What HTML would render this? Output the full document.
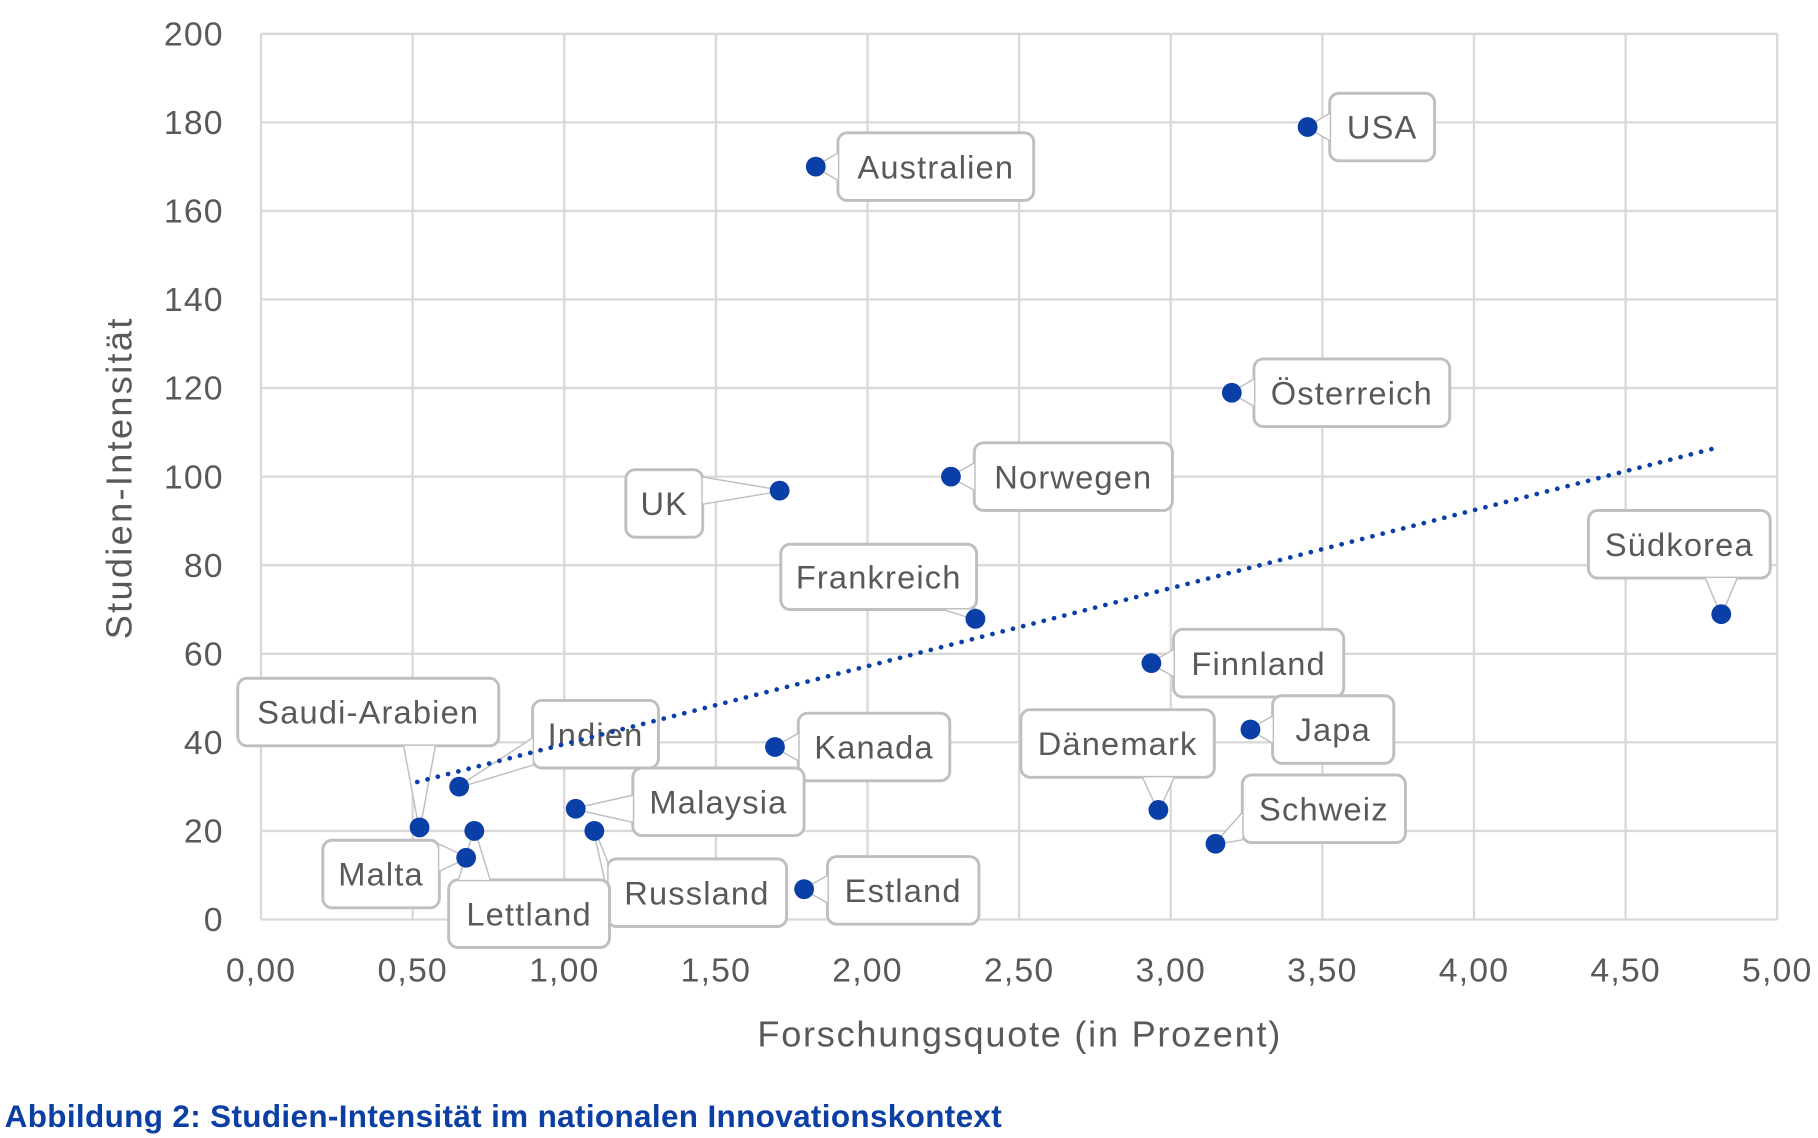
<!DOCTYPE html>
<html><head><meta charset="utf-8"><style>
html,body{margin:0;padding:0;background:#fff;}
svg{display:block;}
text{font-family:"Liberation Sans",sans-serif;}
</style></head><body>
<svg id="s" width="1818" height="1138" viewBox="0 0 1560 976.5" xmlns="http://www.w3.org/2000/svg">
<rect width="1560" height="977" fill="#fff"/>
<g id="grid" stroke="#d9d9d9" stroke-width="2"></g>
<g id="ticks" fill="#595959" font-size="29" letter-spacing="1"></g>
<text x="875" y="898" text-anchor="middle" fill="#595959" font-size="31" letter-spacing="1.5">Forschungsquote (in Prozent)</text>
<text transform="translate(113,410) rotate(-90)" text-anchor="middle" fill="#595959" font-size="31" letter-spacing="2">Studien-Intensität</text>
<g id="lab"></g>
<line x1="358" y1="671" x2="1470" y2="385" stroke="#0a3fa8" stroke-width="4" stroke-dasharray="0.1 9" stroke-linecap="round"/>
<g id="pts" fill="#0a3fa8"></g>
<text x="4" y="967" fill="#0b3fa3" font-size="27" font-weight="bold" letter-spacing="0.3">Abbildung 2: Studien-Intensität im nationalen Innovationskontext</text>
</svg>
<script>
var NS="http://www.w3.org/2000/svg";
function el(p,t,a,txt){var e=document.createElementNS(NS,t);for(var k in a)e.setAttribute(k,a[k]);if(txt)e.textContent=txt;p.appendChild(e);return e;}
var g=document.getElementById('grid'),tk=document.getElementById('ticks');
for(var i=0;i<=10;i++){var x=224+i*130.1;el(g,'line',{x1:x,y1:29,x2:x,y2:789});
el(tk,'text',{x:x,y:842,'text-anchor':'middle'},(i*0.5).toFixed(2).replace('.',','));}
for(var j=0;j<=10;j++){var y=789-j*76;el(g,'line',{x1:224,y1:y,x2:1525,y2:y});
el(tk,'text',{x:192,y:y+10,'text-anchor':'end'},String(j*20));}
var L=[
["Australien",700,143,719,114,168,58],["USA",1122,109,1141,80,90,58],["Österreich",1057,337,1076,308,168,58],
["Norwegen",816,409,836,380,170,58],["UK",669,421,537,403,66,58],["Frankreich",837,531,670,467,168,56],
["Südkorea",1477,527,1363,438,156,58],["Finnland",988,569,1007,540,146,58],["Japa",1073,626,1092,597,104,58],
["Dänemark",994,695,876,609,166,58],["Schweiz",1043,724,1066,665,140,58],["Kanada",665,641,685,612,130,58],
["Malaysia",494,694,543,659,147,58],["Russland",510,713,521,737,154,58],["Estland",690,763,710,735,130,58],
["Saudi-Arabien",360,710,204,582,224,58],["Indien",394,675,457,601,108,58],["Lettland",407,713,385,755,138,58],
["Malta",400,736,277,721,100,58]];
var lab=document.getElementById('lab'),pts=document.getElementById('pts');
L.forEach(function(d){var px=d[1],py=d[2],x=d[3],y=d[4],w=d[5],h=d[6];
 var cx=x+w/2,cy=y+h/2,bx,by,a,b;
 if(px<x){bx=x;by=Math.max(y+14,Math.min(y+h-14,py));a=[bx,by-11];b=[bx,by+11];}
 else if(px>x+w){bx=x+w;by=Math.max(y+14,Math.min(y+h-14,py));a=[bx,by-11];b=[bx,by+11];}
 else if(py>y+h){by=y+h;bx=Math.max(x+14,Math.min(x+w-14,px));a=[bx-13,by];b=[bx+13,by];}
 else {by=y;bx=Math.max(x+14,Math.min(x+w-14,px));a=[bx-13,by];b=[bx+13,by];}
 var pp=a[0]+','+a[1]+' '+px+','+py+' '+b[0]+','+b[1];
 el(lab,'polygon',{points:pp,fill:'#fff',stroke:'#bfbfbf','stroke-width':2.5,'stroke-linejoin':'round'});
 el(lab,'rect',{x:x,y:y,width:w,height:h,rx:8,fill:'#fff',stroke:'#bfbfbf','stroke-width':2.5});
 el(lab,'polygon',{points:pp,fill:'#fff'});
 el(lab,'text',{x:cx,y:cy+10,'text-anchor':'middle',fill:'#595959','font-size':28,'letter-spacing':1},d[0]);
 el(pts,'circle',{cx:px,cy:py,r:8.5});
});
</script>
</body></html>
